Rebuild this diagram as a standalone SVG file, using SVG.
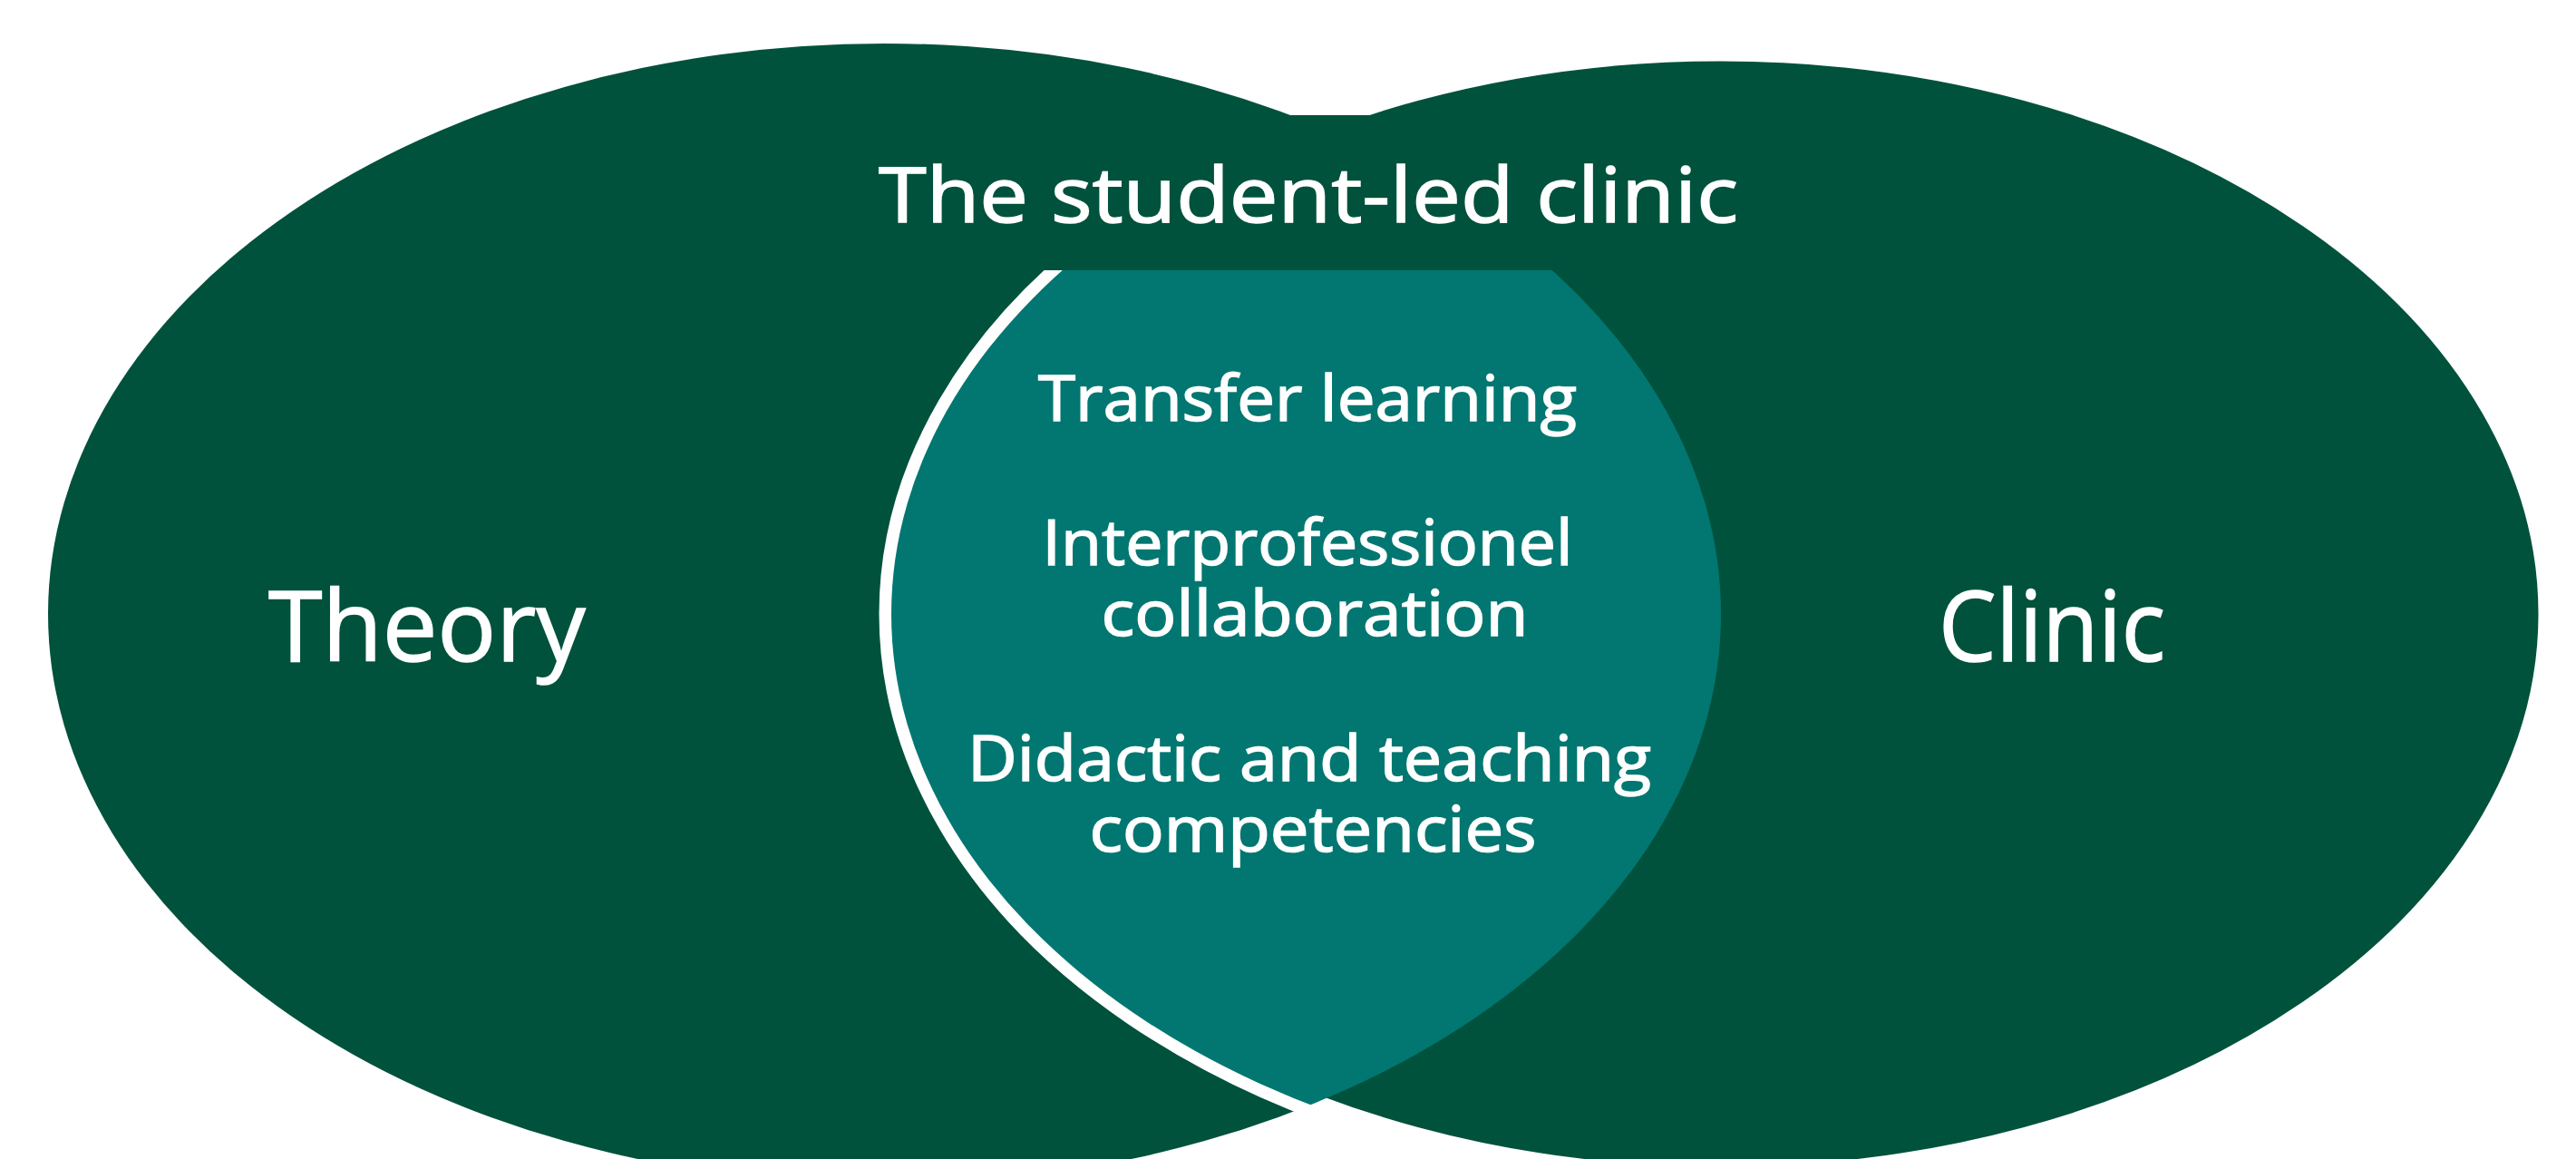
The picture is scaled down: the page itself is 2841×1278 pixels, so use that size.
<svg xmlns="http://www.w3.org/2000/svg" width="2841" height="1278" viewBox="0 0 2841 1278">
  <style>
    .set { fill: #00523C; }
    .label { font-family: "Open Sans", Lato, "Liberation Sans", sans-serif; font-weight: 400; fill: #FFFFFF; text-anchor: middle; font-variant-ligatures: none; stroke: #FFFFFF; stroke-width: 1.5px; }
    .big { font-size: 108px; }
    .title { font-size: 84px; }
    .item { font-size: 70px; }
  </style>
  <defs>
    <clipPath id="theoryClip">
      <ellipse cx="975.5" cy="677" rx="922.5" ry="629"/>
    </clipPath>
  </defs>
  <rect width="2841" height="1278" fill="#FFFFFF"/>

  <!-- Left set -->
  <g id="theory">
    <ellipse class="set" cx="975.5" cy="677" rx="922.5" ry="629"/>
    <text class="label big" x="296" y="729" style="text-anchor:start">Theory</text>
  </g>

  <!-- Right set, outlined in white where it crosses the left one -->
  <g id="clinic">
    <ellipse class="set" cx="1898" cy="677" rx="915" ry="623" stroke="#FFFFFF" stroke-width="27"/>
    <text class="label big" x="2263" y="729" textLength="250" lengthAdjust="spacingAndGlyphs">Clinic</text>
  </g>

  <!-- Overlap of both sets -->
  <g id="overlap">
    <ellipse cx="1898" cy="677" rx="915" ry="623" fill="#027771" clip-path="url(#theoryClip)"/>
    <text class="label item" x="1442" y="464" textLength="594" lengthAdjust="spacingAndGlyphs">Transfer learning</text>
    <text class="label item" x="1442" y="623" textLength="585" lengthAdjust="spacingAndGlyphs">Interprofessionel</text>
    <text class="label item" x="1450" y="701" textLength="471" lengthAdjust="spacingAndGlyphs">collaboration</text>
    <text class="label item" x="1444" y="861" textLength="754" lengthAdjust="spacingAndGlyphs">Didactic and teaching</text>
    <text class="label item" x="1448" y="939" textLength="493" lengthAdjust="spacingAndGlyphs">competencies</text>
  </g>

  <!-- Heading band across the top of the overlap -->
  <g id="title">
    <rect class="set" x="900" y="127" width="1090" height="171" stroke="none"/>
    <text class="label title" x="1443" y="245" textLength="948" lengthAdjust="spacingAndGlyphs">The student-led clinic</text>
  </g>
</svg>
